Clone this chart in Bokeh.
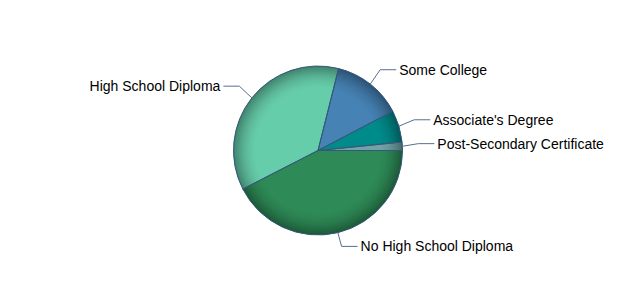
import numpy as np
from bokeh.plotting import figure
from bokeh.models import Range1d, ColumnDataSource
from bokeh.core.properties import value
from bokeh.embed import file_html
from bokeh.resources import INLINE

categories = ["No High School Diploma", "High School Diploma", "Some College",
              "Associate's Degree", "Post-Secondary Certificate"]
shares = [42.5, 36.5, 13.4, 6.1, 1.6]
colors = ["#2E8B57", "#66CDAA", "#4682B4", "#008B8B", "#6FA3A5"]

W, H = 635, 300
cx, cy, r = 317.5, 150.0, 84.5

vals = np.array(shares, dtype=float)
frac = vals / vals.sum()
ends = np.cumsum(frac) * 2 * np.pi
starts = ends - frac * 2 * np.pi
src = ColumnDataSource(dict(start=-starts, end=-ends, color=colors))

p = figure(width=W, height=H, output_backend="svg", toolbar_location=None,
           x_range=Range1d(0, W), y_range=Range1d(0, H), min_border=0)
p.axis.visible = False
p.grid.visible = False
p.outline_line_color = None
p.background_fill_color = "white"

p.wedge(x=cx, y=cy, radius=r, start_angle="start", end_angle="end",
        direction="clock", fill_color="color", line_color=None, source=src)

n = 12
r0 = 0.72 * r
for i in range(n):
    ri = r0 + (r - r0) * i / n
    ro = r0 + (r - r0) * (i + 1) / n
    a = 0.38 * ((i + 0.5) / n) ** 1.8
    p.annulus(x=cx, y=cy, inner_radius=ri, outer_radius=ro,
              fill_color="black", fill_alpha=a, line_color=None)

p.wedge(x=cx, y=cy, radius=r, start_angle="start", end_angle="end",
        direction="clock", fill_color=None, line_color="#34587a",
        line_width=1, source=src)

xs, ys = [], []
lx, ly, la, lt = [], [], [], []
for k, name in enumerate(categories):
    m = (starts[k] + ends[k]) / 2
    ux, uy = np.cos(m), -np.sin(m)
    px, py = cx + r * ux, cy + r * uy
    ex, ey = cx + (r + 16) * ux, cy + (r + 16) * uy + 1.8
    side = 1 if ux >= 0 else -1
    hx = ex + side * 16
    xs.append([px, ex, hx])
    ys.append([py, ey, ey])
    lx.append(hx + side * 3)
    ly.append(ey)
    la.append("left" if side > 0 else "right")
    lt.append(name)

p.multi_line(xs=xs, ys=ys, line_color="#56708e", line_width=1)
p.text(x=lx, y=ly, text=lt, text_align=la, text_baseline="middle",
       text_font=value("Liberation Sans"), text_font_size="14px",
       text_color="#000000")

open("out.html", "w").write(file_html(p, INLINE))
